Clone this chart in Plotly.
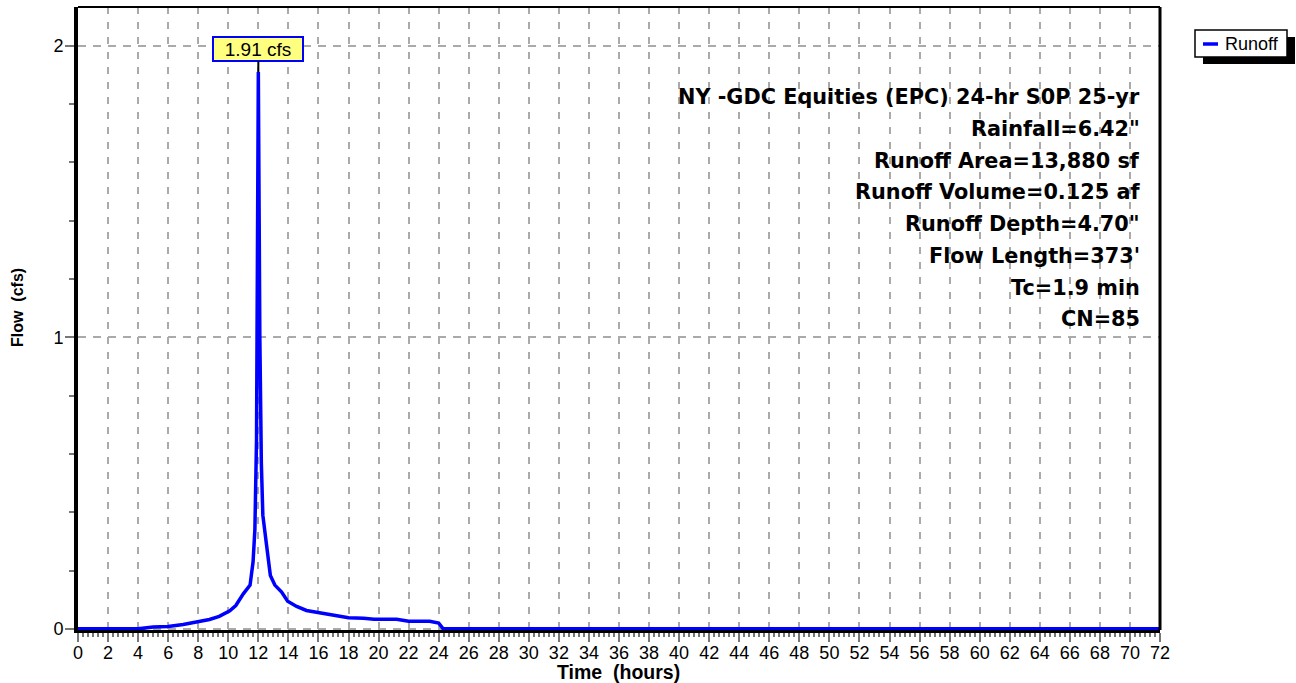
import plotly.graph_objects as go

# ---- data ----
time_hr = [0, 4.0, 5.0, 6.0, 7.0, 8.0, 8.75, 9.4, 10.1, 10.5, 11.0, 11.45, 11.55, 11.65,
           11.77, 11.88, 12.0, 12.05, 12.1, 12.2, 12.3, 12.55, 12.8, 13.1, 13.55, 13.95,
           14.55, 15.2, 16.1, 17.0, 18.0, 19.0, 19.7, 21.2, 22.0, 23.4, 24.0, 24.3, 72.0]
flow_cfs = [0, 0, 0.006, 0.008, 0.015, 0.023, 0.032, 0.043, 0.062, 0.08, 0.12, 0.15, 0.19, 0.23,
            0.34, 0.65, 1.91, 1.25, 1.0, 0.57, 0.39, 0.286, 0.183, 0.15, 0.126, 0.095,
            0.077, 0.063, 0.055, 0.047, 0.038, 0.036, 0.033, 0.033, 0.026, 0.026, 0.02, 0.0, 0.0]
series_name = "Runoff"
peak_time = 12.0
peak_flow = 1.91
peak_label = "1.91 cfs"
info_lines = [
    "NY -GDC Equities (EPC) 24-hr S0P 25-yr",
    "Rainfall=6.42\"",
    "Runoff Area=13,880 sf",
    "Runoff Volume=0.125 af",
    "Runoff Depth=4.70\"",
    "Flow Length=373'",
    "Tc=1.9 min",
    "CN=85",
]
x_ticks = list(range(0, 73, 2))
y_ticks = [0, 1, 2]

W, H = 1296, 683
ML, MR, MT, MB = 78, 136, 7, 53
PW = W - ML - MR
PH = H - MT - MB
YMIN, YMAX = -0.004, 2.133


def px_to_paper_x(px):
    return (px - ML) / PW


def px_to_paper_y(py):
    return (H - MB - py) / PH


fig = go.Figure()
fig.add_trace(go.Scatter(
    x=time_hr, y=flow_cfs, mode="lines", name=series_name,
    line=dict(color="#0000ff", width=3.5),
    showlegend=False, hoverinfo="skip",
))

# info text block (right aligned)
centers = [97.5, 129.2, 160.8, 192.5, 224.2, 255.8, 287.5, 319.2]
for txt, cy in zip(info_lines, centers):
    fig.add_annotation(
        text="<b>" + txt + "</b>", xref="paper", yref="paper",
        x=px_to_paper_x(1142), y=px_to_paper_y(cy),
        xanchor="right", yanchor="middle", showarrow=False,
        font=dict(family="DejaVu Sans", size=20.8, color="black"),
    )

# peak label
fig.add_annotation(
    x=peak_time, y=peak_flow, xref="x", yref="y", text=peak_label,
    showarrow=True, arrowhead=0, arrowwidth=2, arrowcolor="black",
    ax=0, ay=-23, standoff=0,
    bgcolor="#ffff80", bordercolor="#0000ff", borderwidth=2, borderpad=1,
    width=86, height=20,
    font=dict(family="Liberation Sans", size=19, color="black"),
)

# axis titles
fig.add_annotation(
    text="<b>Time  (hours)</b>", xref="paper", yref="paper",
    x=px_to_paper_x(618), y=px_to_paper_y(685), xanchor="center", yanchor="bottom",
    showarrow=False, font=dict(family="Liberation Sans", size=19.5, color="black"),
)
fig.add_annotation(
    text="<b>Flow  (cfs)</b>", xref="paper", yref="paper", textangle=-90,
    x=px_to_paper_x(17), y=px_to_paper_y(308), xanchor="center", yanchor="middle",
    showarrow=False, font=dict(family="Liberation Sans", size=16, color="black"),
)

# frame: top and right borders
fig.add_shape(type="line", xref="paper", yref="paper", x0=0, x1=1, y0=1, y1=1,
              line=dict(color="black", width=2))
fig.add_shape(type="line", xref="paper", yref="paper", x0=1, x1=1, y0=0, y1=1,
              line=dict(color="black", width=3))

# legend (drawn box with drop shadow)
LX0, LX1, LY0, LY1 = 1195, 1287, 30, 57
fig.add_shape(type="rect", xref="paper", yref="paper",
              x0=px_to_paper_x(LX0 + 8), x1=px_to_paper_x(LX1 + 8),
              y0=px_to_paper_y(LY1 + 7), y1=px_to_paper_y(LY0 + 7),
              fillcolor="black", line=dict(width=0), layer="above")
fig.add_shape(type="rect", xref="paper", yref="paper",
              x0=px_to_paper_x(LX0), x1=px_to_paper_x(LX1),
              y0=px_to_paper_y(LY1), y1=px_to_paper_y(LY0),
              fillcolor="white", line=dict(color="black", width=1.5), layer="above")
fig.add_shape(type="line", xref="paper", yref="paper",
              x0=px_to_paper_x(1203), x1=px_to_paper_x(1218),
              y0=px_to_paper_y(44), y1=px_to_paper_y(44),
              line=dict(color="#0000ff", width=3.5), layer="above")
fig.add_annotation(
    text=series_name, xref="paper", yref="paper",
    x=px_to_paper_x(1223), y=px_to_paper_y(44), xanchor="left", yanchor="middle",
    showarrow=False, font=dict(family="Liberation Sans", size=18, color="black"),
)

fig.update_layout(
    width=W, height=H,
    margin=dict(l=ML, r=MR, t=MT, b=MB, pad=0, autoexpand=False),
    paper_bgcolor="white", plot_bgcolor="white",
    font=dict(family="Liberation Sans", size=18, color="black"),
    showlegend=False,
    xaxis=dict(
        range=[0, 72], tickmode="array", tickvals=x_ticks,
        ticktext=[str(v) for v in x_ticks],
        showgrid=True, gridcolor="#aaaaaa", griddash="7px,8px", gridwidth=1.5,
        showline=True, linecolor="black", linewidth=3,
        ticks="outside", ticklen=9, tickwidth=1.5, tickcolor="#777777",
        ticklabelstandoff=-5,
        minor=dict(dtick=1/3, ticks="outside", ticklen=4, tickwidth=1.5,
                   tickcolor="#777777", showgrid=False),
        zeroline=False, layer="below traces", automargin=False,
        tickfont=dict(family="Liberation Sans", size=18),
    ),
    yaxis=dict(
        range=[YMIN, YMAX], tickmode="array", tickvals=y_ticks,
        ticktext=[str(v) for v in y_ticks],
        showgrid=True, gridcolor="#aaaaaa", griddash="8px,7px", gridwidth=1.5,
        showline=True, linecolor="black", linewidth=4,
        ticks="outside", ticklen=9, tickwidth=1.5, tickcolor="#777777",
        ticklabelstandoff=-2,
        minor=dict(dtick=0.2, ticks="outside", ticklen=5, tickwidth=1.5,
                   tickcolor="#777777", showgrid=False),
        zeroline=False, layer="below traces", automargin=False,
        tickfont=dict(family="Liberation Sans", size=18),
    ),
)

fig.write_html("out.html", config={"displayModeBar": False},
               post_script="document.body.style.margin='0';document.body.style.overflow='hidden';")
